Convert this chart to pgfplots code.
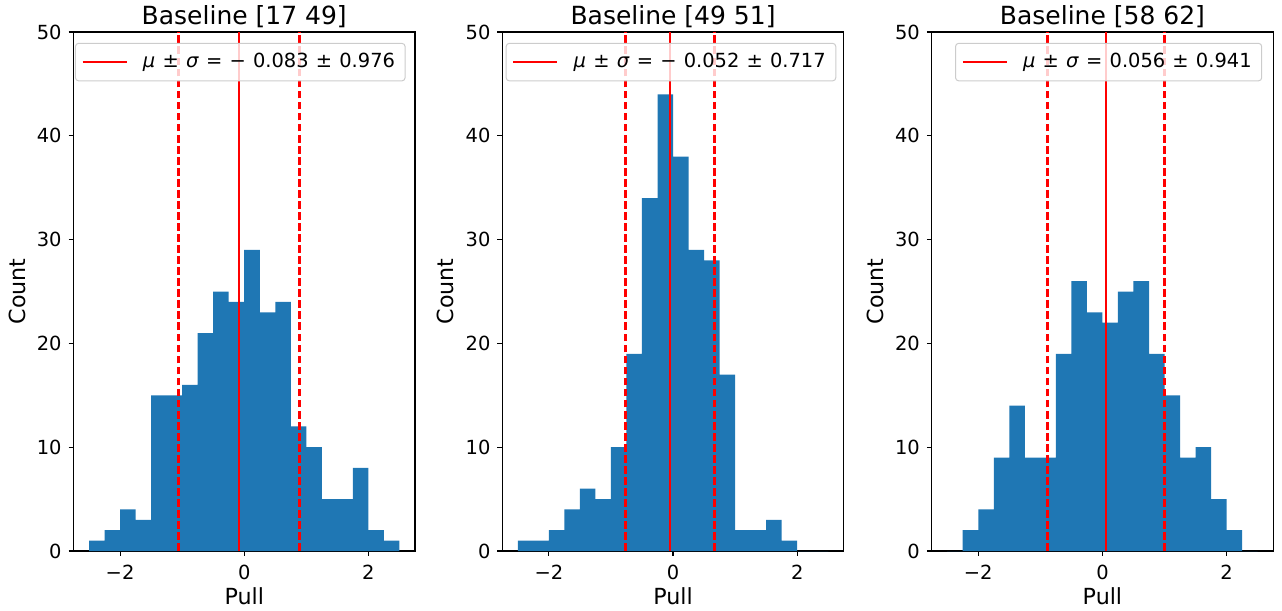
\documentclass[border=0pt]{standalone}
\usepackage{pgfplots}
\usepackage{pgfplotstable}
\pgfplotsset{compat=1.18}
\usepackage{fontspec}
\setmainfont{DejaVu Sans}
\definecolor{c0}{HTML}{1F77B4}
\definecolor{legedge}{HTML}{CCCCCC}
\newcommand{\sk}{\hspace{3.6pt}}

\pgfplotstableread{
x y
-2.5 1
-2.25 2
-2.0 4
-1.75 3
-1.5 15
-1.25 15
-1.0 16
-0.75 21
-0.5 25
-0.25 24
0 29
0.25 23
0.5 24
0.75 12
1.0 10
1.25 5
1.5 5
1.75 8
2.0 2
2.25 1
2.5 1
}\histA

\pgfplotstableread{
x y
-2.5 1
-2.25 1
-2.0 2
-1.75 4
-1.5 6
-1.25 5
-1.0 10
-0.75 19
-0.5 34
-0.25 44
0 38
0.25 29
0.5 28
0.75 17
1.0 2
1.25 2
1.5 3
1.75 1
2.0 0
2.25 0
2.5 0
}\histB

\pgfplotstableread{
x y
-2.5 0
-2.25 2
-2.0 4
-1.75 9
-1.5 14
-1.25 9
-1.0 9
-0.75 19
-0.5 26
-0.25 23
0 22
0.25 25
0.5 26
0.75 19
1.0 15
1.25 9
1.5 10
1.75 5
2.0 2
2.25 0
2.5 0
}\histC

\pgfplotsset{
  pullaxis/.style={
    scale only axis, width=170.75pt, height=259.5pt,
    anchor=south west,
    xmin=-2.75, xmax=2.75, ymin=0, ymax=50,
    xtick={-2,0,2}, xticklabels={−2,0,2},
    ytick={0,10,20,30,40,50}, yticklabels={0,10,20,30,40,50},
    tick align=outside, tick pos=left, major tick length=2.43pt,
    every tick/.style={black, line width=0.56pt},
    axis line style={line width=0.56pt},
    tick label style={font=\fontsize{9.72}{11.5}\selectfont},
    xticklabel style={yshift=-1.2pt},
    every axis title/.style={at={(axis description cs:0.5,1.0148)}, anchor=base, font=\fontsize{12.5}{15}\selectfont},
    xlabel=Pull, ylabel=Count,
    every axis x label/.style={at={(axis description cs:0.5,-0.104)}, anchor=base, font=\fontsize{11.1}{13}\selectfont},
    every axis y label/.style={at={(axis description cs:-0.142,0.5)}, rotate=90, anchor=base, font=\fontsize{11.1}{13}\selectfont},
    legend cell align=left,
    legend style={draw=legedge, line width=0.5pt, rounded corners=1.5pt, fill=white, fill opacity=0.8, text opacity=1,
      font=\fontsize{9.72}{11.5}\selectfont, inner xsep=3pt, inner ysep=3pt,
      /tikz/every odd column/.append style={column sep=5.5pt}},
    legend image code/.code={\draw[red, line width=1.25pt] (0pt,0pt) -- (22pt,0pt);},
  },
  meanline/.style={red, line width=1.25pt},
  sigline/.style={red, line width=1.25pt, dash pattern=on 3.85pt off 1.67pt, forget plot},
  histbar/.style={ybar interval, fill=c0, draw=none, forget plot},
}

\begin{document}
\begin{tikzpicture}
\begin{axis}[pullaxis, at={(0pt,0pt)}, title={Baseline [17 49]},
  legend style={at={(0.0044,0.979)}, anchor=north west}]
\addplot[histbar] table[x=x,y=y] {\histA};
\addplot[sigline] coordinates {(-1.059,0) (-1.059,50)};
\addplot[sigline] coordinates {(0.893,0) (0.893,50)};
\addplot[meanline] coordinates {(-0.083,0) (-0.083,50)};
\addlegendentry{\textit{μ}\sk±\sk\textit{σ}\sk=\sk−\sk0.083\sk±\sk0.976}
\end{axis}
\begin{axis}[pullaxis, at={(214.4pt,0pt)}, title={Baseline [49 51]},
  legend style={at={(0.01,0.979)}, anchor=north west}]
\addplot[histbar] table[x=x,y=y] {\histB};
\addplot[sigline] coordinates {(-0.769,0) (-0.769,50)};
\addplot[sigline] coordinates {(0.665,0) (0.665,50)};
\addplot[meanline] coordinates {(-0.052,0) (-0.052,50)};
\addlegendentry{\textit{μ}\sk±\sk\textit{σ}\sk=\sk−\sk0.052\sk±\sk0.717}
\end{axis}
\begin{axis}[pullaxis, at={(429.1pt,0pt)}, title={Baseline [58 62]},
  legend style={at={(0.9677,0.979)}, anchor=north east}]
\addplot[histbar] table[x=x,y=y] {\histC};
\addplot[sigline] coordinates {(-0.885,0) (-0.885,50)};
\addplot[sigline] coordinates {(0.997,0) (0.997,50)};
\addplot[meanline] coordinates {(0.056,0) (0.056,50)};
\addlegendentry{\textit{μ}\sk±\sk\textit{σ}\sk=\sk0.056\sk±\sk0.941}
\end{axis}
\pgfresetboundingbox
\useasboundingbox (-36.75pt,-30pt) rectangle (604.25pt,275.5pt);
\end{tikzpicture}
\end{document}
